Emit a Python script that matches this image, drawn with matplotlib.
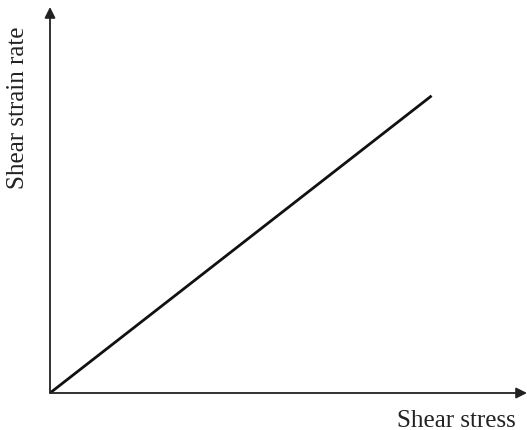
import matplotlib.pyplot as plt

# shear stress vs shear strain rate (Newtonian fluid, straight line)
stress = [0.0, 0.80]
strain_rate = [0.0, 0.77]

W, H = 527, 431
fig = plt.figure(figsize=(W / 100, H / 100), dpi=100)
plt.rcParams['font.family'] = ['Liberation Serif', 'DejaVu Serif']

x0, y0 = 50, 394      # origin in pixels
x1, y1 = 527, 8       # ends of the axes arrows
ax = fig.add_axes([x0 / W, (H - y0) / H, (x1 - x0) / W, (y0 - y1) / H])
ax.set_xlim(0, 1)
ax.set_ylim(0, 1)
ax.axis('off')

ax.plot(stress, strain_rate, color='#111111', lw=2, solid_capstyle='butt')

arrow = dict(arrowstyle='-|>', color='#222222', lw=1.3, mutation_scale=16,
             shrinkA=0, shrinkB=0)
ax.annotate('', xy=(1, 0), xytext=(0, 0), xycoords='axes fraction', arrowprops=arrow)
ax.annotate('', xy=(0, 1), xytext=(0, 0), xycoords='axes fraction', arrowprops=arrow)

fig.text(18 / W, 1 - 108 / H, 'Shear strain rate', rotation=90, fontsize=18,
         ha='center', va='center', color='#222222')
fig.text(516 / W, 1 - 421 / H, 'Shear stress', fontsize=18,
         ha='right', va='center', color='#222222')

fig.savefig('out.png', dpi=100)
